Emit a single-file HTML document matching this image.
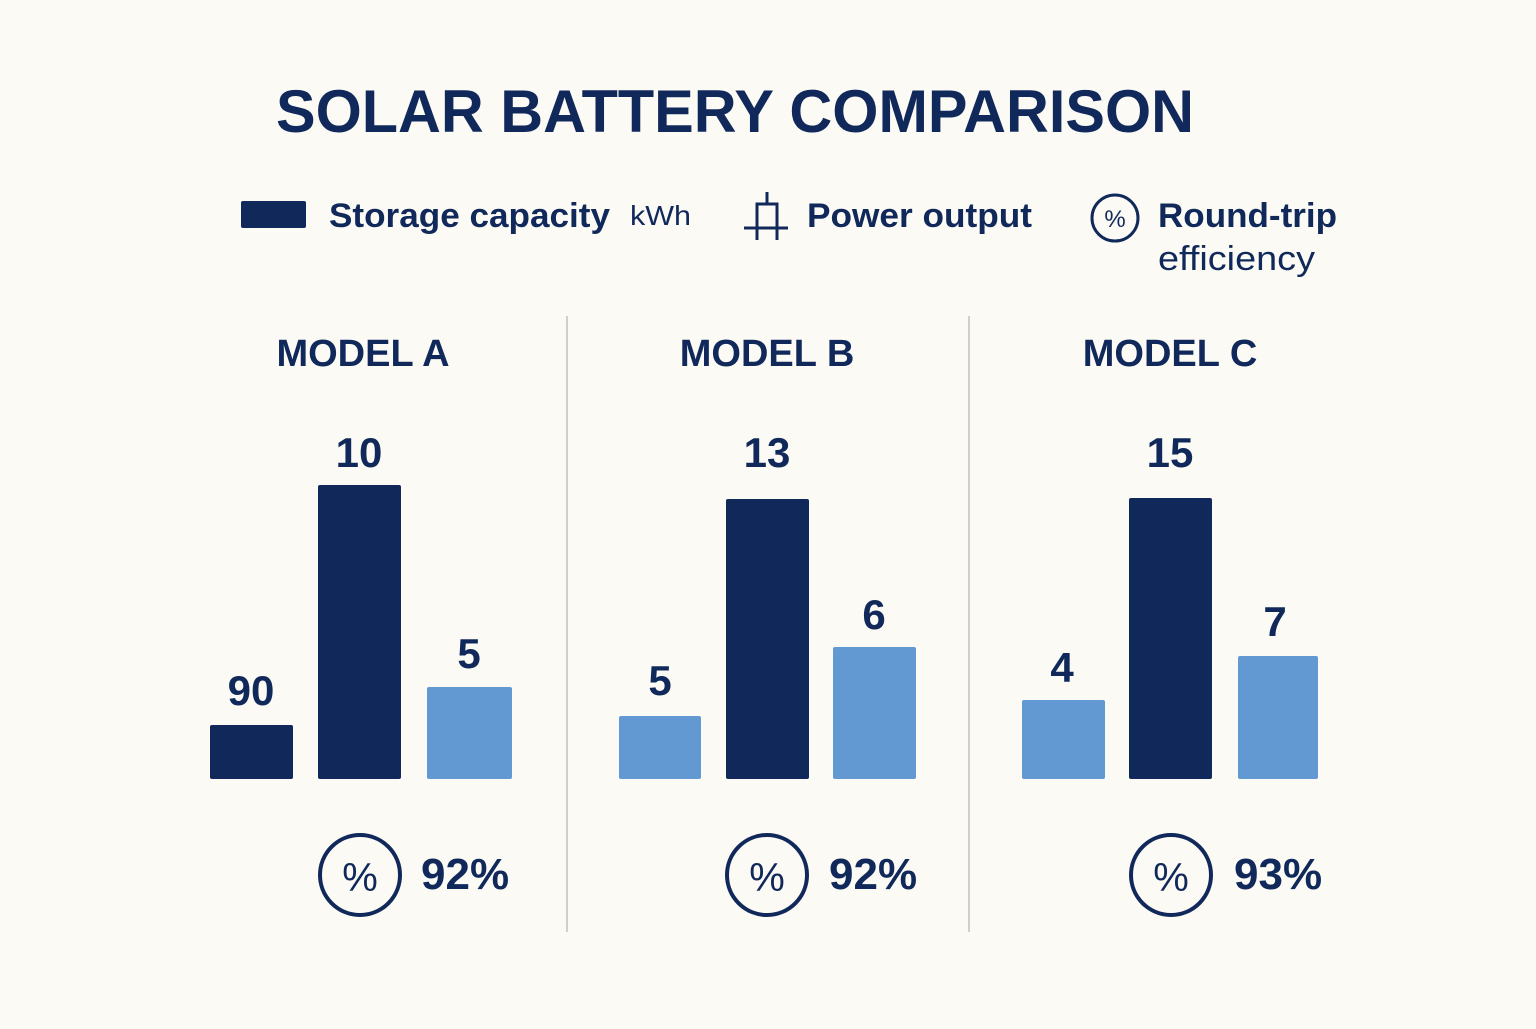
<!DOCTYPE html>
<html><head><style>
body{margin:0;background:#fbfaf5;}
svg text{font-family:"Liberation Sans",sans-serif;fill:#10295a;}
</style></head><body>
<svg width="1536" height="1024" viewBox="0 0 1536 1024" xmlns="http://www.w3.org/2000/svg">
<rect width="1536" height="1024" fill="#fbfaf5"/>
<text x="735" y="132" text-anchor="middle" font-size="60" font-weight="bold" textLength="918" lengthAdjust="spacingAndGlyphs">SOLAR BATTERY COMPARISON</text>
<rect x="241" y="201" width="65" height="27" rx="2" fill="#10295a"/>
<text x="329" y="227" font-size="34" font-weight="bold" textLength="281" lengthAdjust="spacingAndGlyphs">Storage capacity</text>
<text x="630" y="225" font-size="28" textLength="61" lengthAdjust="spacingAndGlyphs">kWh</text>
<g stroke="#10295a" stroke-width="3" fill="none">
<path d="M767 192V204M757 204H777V228H757ZM744 228H788M757 228V240M777 228V240"/>
<circle cx="1115" cy="218" r="23"/>
</g>
<text x="1115" y="227" font-size="24" text-anchor="middle">%</text>
<text x="807" y="227" font-size="34" font-weight="bold" textLength="225" lengthAdjust="spacingAndGlyphs">Power output</text>
<text x="1158" y="227" font-size="34" font-weight="bold" textLength="179" lengthAdjust="spacingAndGlyphs">Round-trip</text>
<text x="1158" y="270" font-size="34" textLength="157" lengthAdjust="spacingAndGlyphs">efficiency</text>
<line x1="567" y1="316" x2="567" y2="932" stroke="#cfcfcf" stroke-width="2"/>
<line x1="969" y1="316" x2="969" y2="932" stroke="#cfcfcf" stroke-width="2"/>
<g font-size="38" font-weight="bold" text-anchor="middle">
<text x="363" y="366">MODEL A</text><text x="767" y="366">MODEL B</text><text x="1170" y="366">MODEL C</text>
</g>
<g>
<rect x="210" y="725" width="83" height="54" fill="#10295a" rx="2"/>
<rect x="318" y="485" width="83" height="294" fill="#10295a" rx="2"/>
<rect x="427" y="687" width="85" height="92" fill="#6399d3" rx="2"/>
<rect x="619" y="716" width="82" height="63" fill="#6399d3" rx="2"/>
<rect x="726" y="499" width="83" height="280" fill="#10295a" rx="2"/>
<rect x="833" y="647" width="83" height="132" fill="#6399d3" rx="2"/>
<rect x="1022" y="700" width="83" height="79" fill="#6399d3" rx="2"/>
<rect x="1129" y="498" width="83" height="281" fill="#10295a" rx="2"/>
<rect x="1238" y="656" width="80" height="123" fill="#6399d3" rx="2"/>
</g>
<g font-size="42" font-weight="bold" text-anchor="middle">
<text x="251" y="705">90</text><text x="359" y="467">10</text><text x="469" y="668">5</text>
<text x="660" y="695">5</text><text x="767" y="467">13</text><text x="874" y="629">6</text>
<text x="1062" y="682">4</text><text x="1170" y="467">15</text><text x="1275" y="636">7</text>
</g>
<g stroke="#10295a" stroke-width="4" fill="none">
<circle cx="360" cy="875" r="40"/><circle cx="767" cy="875" r="40"/><circle cx="1171" cy="875" r="40"/>
</g>
<g font-size="40" text-anchor="middle">
<text x="360" y="891">%</text><text x="767" y="891">%</text><text x="1171" y="891">%</text>
</g>
<g font-size="44" font-weight="bold">
<text x="421" y="889">92%</text><text x="829" y="889">92%</text><text x="1234" y="889">93%</text>
</g>
</svg>
</body></html>
